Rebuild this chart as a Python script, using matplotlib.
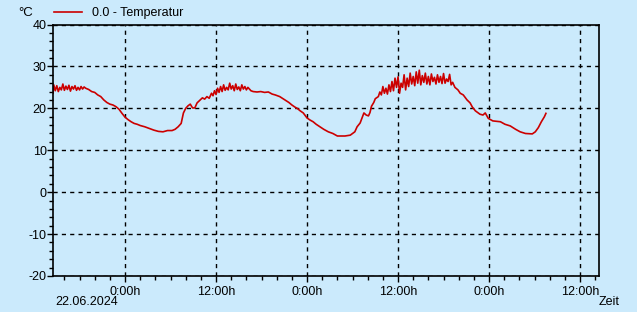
import matplotlib.pyplot as plt
from matplotlib.ticker import MultipleLocator, FixedLocator, FixedFormatter
from matplotlib.lines import Line2D

# Stunden ab 22.06.2024 0:00 und Temperatur in °C
stunden = [
    14.5, 14.6, 14.8, 15.0, 15.2, 15.4, 15.6, 15.8, 16.0, 16.2, 16.4, 16.6, 16.8, 17.0,
    17.2, 17.4, 17.6, 17.8, 18.0, 18.2, 18.4, 18.6, 18.8, 19.2, 19.6, 20.0, 20.4, 20.8,
    21.2, 21.6, 22.0, 22.4, 22.8, 23.2, 23.6, 24.0, 24.4, 24.8, 25.2, 25.6, 26.0, 26.6,
    27.2, 27.8, 28.4, 29.0, 29.6, 30.2, 30.6, 31.0, 31.2, 31.4, 31.7, 32.0, 32.3, 32.6,
    32.9, 33.2, 33.5, 33.9, 34.2, 34.5, 34.8, 35.1, 35.4, 35.6, 35.8, 36.0, 36.2, 36.4,
    36.6, 36.8, 37.0, 37.2, 37.4, 37.6, 37.8, 38.0, 38.2, 38.4, 38.6, 38.8, 39.0, 39.2,
    39.4, 39.6, 39.8, 40.0, 40.2, 40.4, 40.6, 40.9, 41.4, 41.9, 42.4, 42.9, 43.4, 43.8,
    44.4, 45.1, 45.6, 46.0, 46.4, 46.7, 47.1, 47.5, 48.0, 48.4, 48.8, 49.2, 49.7, 50.2,
    50.8, 51.4, 52.0, 52.5, 53.0, 53.7, 54.0, 54.3, 54.6, 55.0, 55.5, 55.8, 56.1, 56.3,
    56.5, 56.8, 57.0, 57.4, 57.6, 57.8, 58.0, 58.2, 58.4, 58.6, 58.8, 59.0, 59.2, 59.4,
    59.6, 59.8, 60.0, 60.2, 60.4, 60.6, 60.8, 61.0, 61.2, 61.4, 61.6, 61.8, 62.0, 62.2,
    62.4, 62.6, 62.8, 63.0, 63.2, 63.4, 63.6, 63.8, 64.0, 64.2, 64.4, 64.6, 64.8, 65.0,
    65.2, 65.4, 65.6, 65.8, 66.0, 66.2, 66.4, 66.6, 66.8, 67.0, 67.2, 67.5, 67.9, 68.2,
    68.6, 69.1, 69.5, 69.8, 70.2, 70.8, 71.2, 71.5, 71.9, 72.5, 73.5, 74.1, 74.8, 75.5,
    76.1, 76.8, 77.7, 78.1, 78.5, 78.9, 79.3, 79.5,
]
temperatur = [
    23.6, 25.6, 24.2, 25.4, 24.0, 25.0, 24.4, 25.8, 24.3, 25.3, 24.5, 25.5, 24.1, 25.2,
    24.6, 25.4, 24.3, 25.0, 24.4, 25.2, 24.6, 25.1, 24.8, 24.5, 24.0, 23.8, 23.2, 22.8,
    22.0, 21.4, 21.0, 20.8, 20.4, 19.8, 18.8, 17.9, 17.3, 16.8, 16.4, 16.2, 15.9, 15.6,
    15.2, 14.8, 14.5, 14.4, 14.7, 14.7, 15.0, 15.6, 16.0, 16.4, 18.9, 20.0, 20.6, 21.0,
    20.1, 20.1, 21.3, 22.0, 22.5, 22.2, 22.8, 22.4, 23.6, 23.0, 24.2, 23.3, 24.8, 23.8,
    25.2, 24.0, 25.6, 24.3, 25.0, 24.4, 26.0, 24.6, 25.4, 24.2, 25.8, 24.5, 25.1, 24.2,
    25.6, 24.6, 25.2, 24.4, 25.0, 24.6, 24.2, 24.0, 23.9, 24.0, 23.8, 23.9, 23.4, 23.2,
    22.8, 22.0, 21.4, 20.8, 20.3, 20.0, 19.4, 18.9, 17.7, 17.2, 16.8, 16.2, 15.6, 15.0,
    14.4, 14.0, 13.4, 13.4, 13.4, 13.6, 14.0, 14.4, 15.6, 16.5, 18.9, 18.4, 18.2, 19.0,
    20.5, 21.4, 22.3, 22.8, 23.9, 23.2, 25.2, 23.6, 24.8, 23.4, 25.6, 24.0, 26.4, 24.2,
    27.2, 25.0, 27.5, 23.6, 26.0, 25.0, 28.0, 24.4, 27.2, 25.2, 28.4, 25.8, 27.6, 25.4,
    28.7, 26.0, 29.1, 25.6, 27.8, 26.2, 28.4, 25.8, 27.6, 25.6, 28.2, 26.4, 27.4, 25.8,
    28.0, 26.2, 27.6, 25.9, 28.3, 26.0, 27.0, 26.4, 28.1, 25.6, 26.2, 25.0, 24.4, 23.6,
    23.2, 22.0, 21.3, 20.3, 19.4, 18.6, 18.4, 18.9, 17.6, 17.0, 16.8, 16.2, 15.8, 15.0,
    14.4, 14.0, 13.9, 14.4, 15.4, 16.8, 18.0, 18.8,
]

x_ticks = [24, 36, 48, 60, 72, 84]
x_labels = ["0:00h", "12:00h", "0:00h", "12:00h", "0:00h", "12:00h"]

hintergrund = "#cbeafc"
plt.rcParams["font.family"] = ["Liberation Sans", "DejaVu Sans"]
plt.rcParams["axes.unicode_minus"] = False

fig = plt.figure(figsize=(6.37, 3.12), dpi=100, facecolor=hintergrund)
ax = fig.add_axes([53 / 637, 1 - 276 / 312, 546 / 637, 251.5 / 312])
ax.set_facecolor(hintergrund)

ax.plot(stunden, temperatur, color="#cc0000", linewidth=1.2)

ax.set_xlim(14.5, 86.5)
ax.set_ylim(-20, 40)
ax.xaxis.set_major_locator(FixedLocator(x_ticks))
ax.xaxis.set_major_formatter(FixedFormatter(x_labels))
ax.xaxis.set_minor_locator(MultipleLocator(2))
ax.yaxis.set_major_locator(MultipleLocator(10))
ax.yaxis.set_minor_locator(MultipleLocator(2))

ax.grid(True, which="major", color="black", linestyle=(0, (3, 3)), linewidth=1)
ax.tick_params(which="major", length=4, width=1, labelsize=9)
ax.tick_params(which="minor", length=3, width=1)
ax.tick_params(axis="x", pad=3)
ax.tick_params(axis="y", pad=0.5)
for s in ax.spines.values():
    s.set_linewidth(1.2)

# Beschriftungen
fig.text(18 / 637, 1 - 13 / 312, "°C", fontsize=9.5, va="center")
fig.text(55 / 637, 1 - 302 / 312, "22.06.2024", fontsize=9, va="center")
fig.text(599 / 637, 1 - 302 / 312, "Zeit", fontsize=9, va="center")
eintrag = Line2D([], [], color="#cc0000", linewidth=1.2)
fig.legend(handles=[eintrag], labels=["0.0 - Temperatur"], loc="center left",
           bbox_to_anchor=(54 / 637, 1 - 13 / 312), frameon=False, fontsize=9,
           handlelength=2.2, handletextpad=0.8, borderaxespad=0, borderpad=0)

fig.savefig("out.png", dpi=100, facecolor=hintergrund)
